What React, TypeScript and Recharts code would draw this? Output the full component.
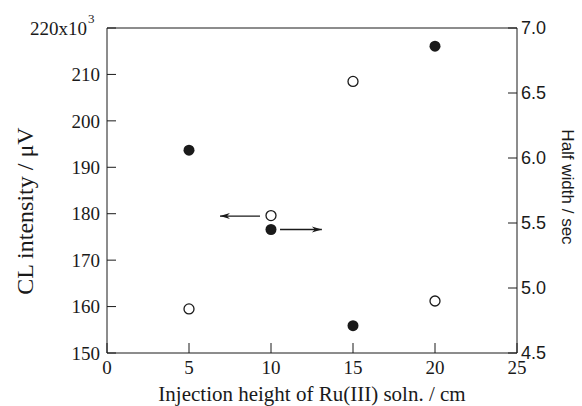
import { ScatterChart, Scatter, XAxis, YAxis, ReferenceLine } from "recharts";

// injection height (cm) vs CL intensity (x10^3 uV, open) and half width (sec, filled)
const heights = [5, 10, 15, 20];
const clIntensity = [159.5, 179.6, 208.5, 161.2];
const halfWidth = [6.06, 5.45, 4.71, 6.86];

const xTicks = [0, 5, 10, 15, 20, 25];
const leftTicks = [150, 160, 170, 180, 190, 200, 210, 220];
const rightTicks = [4.5, 5.0, 5.5, 6.0, 6.5, 7.0];

// arrows telling which axis each series belongs to (tail -> head)
const leftArrow = [
  { x: 9.33, y: 179.5 },
  { x: 6.89, y: 179.5 },
];
const rightArrow = [
  { x: 10.55, y: 5.45 },
  { x: 13.1, y: 5.45 },
];

const clData = heights.map((x, i) => ({ x, y: clIntensity[i] }));
const hwData = heights.map((x, i) => ({ x, y: halfWidth[i] }));

const SERIF = "'Liberation Serif', 'Times New Roman', serif";
const SANS = "'Liberation Sans', Arial, sans-serif";
const INK = "#1a1a1a";
const TS = 6; // axis tickSize, text is placed this far from the axis line

const LeftTick = (props: any) => {
  const { x, y, payload } = props;
  const v = payload.value;
  const ax = x + TS;
  return (
    <g>
      <line x1={ax} y1={y} x2={ax + 9} y2={y} stroke={INK} />
      {v === 220 ? (
        <>
          <text x={ax - 20} y={y} dy="0.35em" textAnchor="end" fontFamily={SERIF} fontSize={19} fill={INK}>
            220x10
          </text>
          <text x={ax - 19} y={y - 5} textAnchor="start" fontFamily={SERIF} fontSize={13} fill={INK}>
            3
          </text>
        </>
      ) : (
        <text x={ax - 7} y={y} dy="0.35em" textAnchor="end" fontFamily={SERIF} fontSize={19} fill={INK}>
          {v}
        </text>
      )}
    </g>
  );
};

const RightTick = (props: any) => {
  const { x, y, payload } = props;
  const ax = x - TS;
  return (
    <g>
      <line x1={ax} y1={y} x2={ax - 9} y2={y} stroke={INK} />
      <text x={ax + 4} y={y} dy="0.35em" textAnchor="start" fontFamily={SANS} fontSize={18} fill={INK}>
        {payload.value.toFixed(1)}
      </text>
    </g>
  );
};

const BottomTick = (props: any) => {
  const { x, y, payload } = props;
  const ay = y - TS;
  return (
    <g>
      <line x1={x} y1={ay} x2={x} y2={ay - 10} stroke={INK} />
      <text x={x} y={ay} dy={21} textAnchor="middle" fontFamily={SERIF} fontSize={19} fill={INK}>
        {payload.value}
      </text>
    </g>
  );
};

const OpenDot = (props: any) => (
  <circle cx={props.cx} cy={props.cy} r={5} fill="#fff" stroke={INK} strokeWidth={1.3} />
);
const FilledDot = (props: any) => <circle cx={props.cx} cy={props.cy} r={5.5} fill={INK} />;

const Arrow = (props: any) => {
  const { x1, y1, x2, y2 } = props;
  const dir = x2 > x1 ? 1 : -1;
  return (
    <g>
      <line x1={x1} y1={y1} x2={x2} y2={y2} stroke={INK} strokeWidth={1.3} />
      <polygon
        points={`${x2},${y2} ${x2 - dir * 10},${y2 - 3} ${x2 - dir * 7},${y2} ${x2 - dir * 10},${y2 + 3}`}
        fill={INK}
      />
    </g>
  );
};

const title = (x: number, y: number, angle: number, font: string, size: number, text: string) => () => (
  <text
    x={x}
    y={y}
    transform={`rotate(${angle}, ${x}, ${y})`}
    textAnchor="middle"
    dominantBaseline="central"
    fontFamily={font}
    fontSize={size}
    fill={INK}
  >
    {text}
  </text>
);

export default function App() {
  return (
    <div style={{ position: "absolute", left: 0, top: 0, background: "#fff" }}>
      <ScatterChart width={582} height={406} margin={{ top: 28, right: 0, bottom: 0, left: 0 }}>
        <XAxis
          type="number"
          dataKey="x"
          domain={[0, 25]}
          ticks={xTicks}
          interval={0}
          height={53}
          tickSize={TS}
          tickMargin={0}
          tickLine={false}
          axisLine={{ stroke: INK }}
          tick={<BottomTick />}
          label={{ content: title(312, 394, 0, SERIF, 21, "Injection height of Ru(III) soln. / cm") }}
        />
        <YAxis
          yAxisId="left"
          type="number"
          dataKey="y"
          domain={[150, 220]}
          ticks={leftTicks}
          interval={0}
          width={107}
          tickSize={TS}
          tickMargin={0}
          tickLine={false}
          axisLine={{ stroke: INK }}
          tick={<LeftTick />}
          label={{ content: title(25, 211, -90, SERIF, 24, "CL intensity / μV") }}
        />
        <YAxis
          yAxisId="right"
          orientation="right"
          type="number"
          dataKey="y"
          domain={[4.5, 7.0]}
          ticks={rightTicks}
          interval={0}
          width={65}
          tickSize={TS}
          tickMargin={0}
          tickLine={false}
          axisLine={{ stroke: INK }}
          tick={<RightTick />}
          label={{ content: title(567, 187, 90, SANS, 17, "Half width / sec") }}
        />
        <ReferenceLine yAxisId="left" y={220} stroke={INK} />
        <ReferenceLine yAxisId="left" segment={leftArrow} shape={<Arrow />} />
        <ReferenceLine yAxisId="right" segment={rightArrow} shape={<Arrow />} />
        <Scatter yAxisId="left" data={clData} dataKey="y" shape={<OpenDot />} isAnimationActive={false} />
        <Scatter yAxisId="right" data={hwData} dataKey="y" shape={<FilledDot />} isAnimationActive={false} />
      </ScatterChart>
    </div>
  );
}
